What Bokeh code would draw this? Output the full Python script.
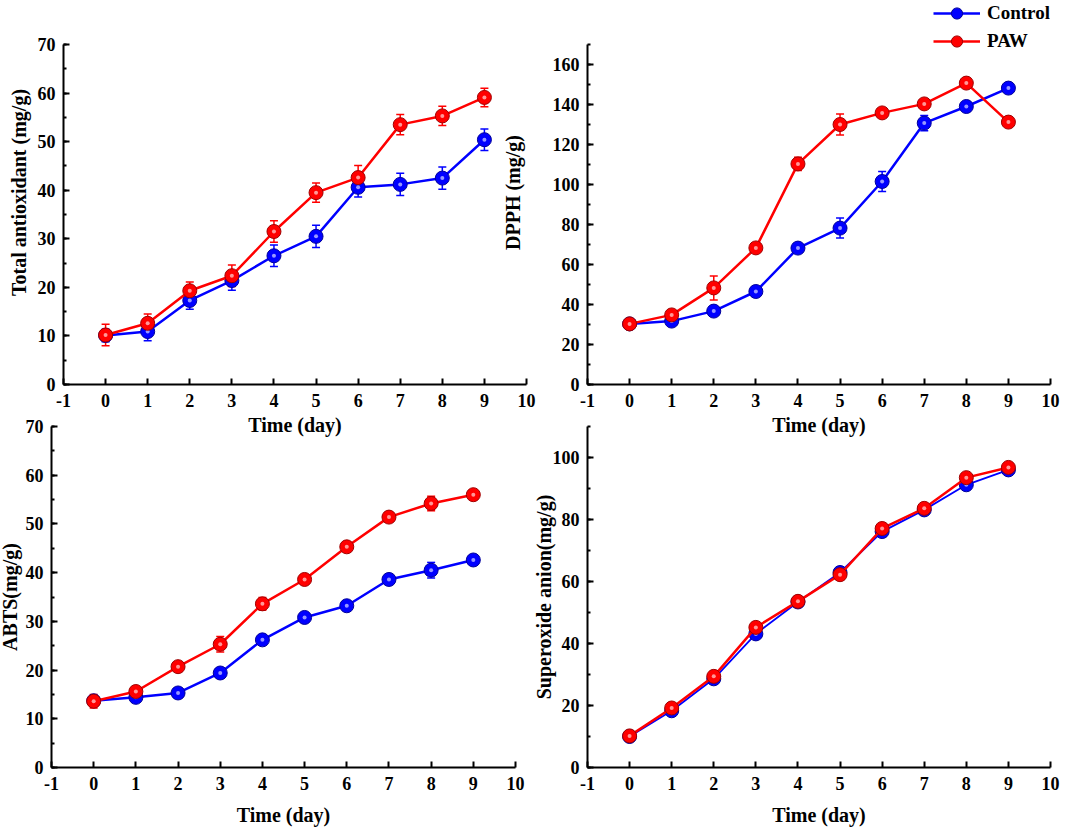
from bokeh.plotting import figure
from bokeh.models import (ColumnDataSource, Whisker, TeeHead, Range1d, FixedTicker,
                          SingleIntervalTicker, Legend, LegendItem)
from bokeh.layouts import row, column
from bokeh.embed import file_html
from bokeh.resources import INLINE

# ---------------- data ----------------
days = [0, 1, 2, 3, 4, 5, 6, 7, 8, 9]
x_ticks = [-1, 0, 1, 2, 3, 4, 5, 6, 7, 8, 9, 10]
series_names = ["Control", "PAW"]

ta_control = [10.1, 10.9, 17.3, 21.4, 26.5, 30.5, 40.6, 41.2, 42.5, 50.4]
ta_control_err = [1.3, 1.9, 1.8, 2.0, 2.2, 2.3, 2.0, 2.3, 2.3, 2.2]
ta_paw = [10.2, 12.6, 19.3, 22.4, 31.5, 39.5, 42.6, 53.5, 55.3, 59.1]
ta_paw_err = [2.2, 1.9, 1.8, 2.2, 2.2, 2.0, 2.5, 2.1, 2.0, 1.9]

dpph_control = [30.3, 31.7, 36.7, 46.5, 68.2, 78.2, 101.5, 130.7, 139.0, 148.2]
dpph_control_err = [1.5, 1.5, 2.0, 2.0, 2.0, 5.0, 5.0, 3.8, 2.0, 2.0]
dpph_paw = [30.3, 34.8, 48.3, 68.3, 110.3, 130.0, 135.8, 140.3, 150.7, 131.2]
dpph_paw_err = [1.5, 2.0, 6.0, 2.0, 3.3, 5.2, 2.0, 2.0, 2.0, 2.0]

abts_control = [13.7, 14.4, 15.3, 19.4, 26.2, 30.8, 33.2, 38.6, 40.5, 42.6]
abts_control_err = [1.0, 1.0, 1.0, 1.0, 1.0, 1.0, 1.0, 1.0, 1.6, 1.0]
abts_paw = [13.6, 15.6, 20.7, 25.3, 33.6, 38.6, 45.3, 51.4, 54.2, 56.0]
abts_paw_err = [1.4, 1.0, 1.0, 1.6, 1.3, 1.0, 1.0, 1.0, 1.5, 1.0]

so_control = [10.0, 18.3, 28.6, 43.1, 53.4, 62.9, 76.1, 83.1, 91.2, 96.0]
so_control_err = [1.0, 1.0, 1.0, 1.0, 1.0, 1.0, 1.0, 1.0, 1.0, 1.0]
so_paw = [10.2, 19.2, 29.4, 45.2, 53.6, 62.2, 77.1, 83.6, 93.5, 96.8]
so_paw_err = [1.0, 1.0, 1.0, 1.0, 1.0, 1.0, 1.0, 1.0, 1.0, 1.0]

# ---------------- style ----------------
FONT = "Liberation Serif"
COLORS = {"Control": ("#0000ff", "#00009a", "#a8a8ff"),
          "PAW": ("#ff0000", "#a00000", "#ffa8a8")}


def panel(ylabel, yview, yaxis_end, ystep, ctrl, ctrl_err, paw, paw_err, geom,
          ylab_standoff, xlab_standoff, ctrl_width=2.5, with_legend=False):
    bl, fw, br, bt, fh, bb, margin = geom
    p = figure(frame_width=fw, frame_height=fh,
               min_border_left=bl, min_border_right=br,
               min_border_top=bt, min_border_bottom=bb,
               x_range=Range1d(-1, 10), y_range=Range1d(0, yview),
               output_backend="svg", toolbar_location=None, margin=margin,
               background_fill_alpha=0, border_fill_alpha=0,
               outline_line_color=None)
    p.grid.visible = False

    p.xaxis.ticker = FixedTicker(ticks=x_ticks, minor_ticks=[])
    p.xaxis.major_label_overrides = {-1: "-1"}
    p.yaxis.ticker = SingleIntervalTicker(interval=ystep, num_minor_ticks=2)
    p.yaxis.bounds = (0, yaxis_end)
    for ax in (p.xaxis[0], p.yaxis[0]):
        ax.axis_line_width = 2
        ax.axis_line_color = "black"
        ax.major_tick_in = 6
        ax.major_tick_out = 0
        ax.minor_tick_in = 3
        ax.minor_tick_out = 0
        ax.major_tick_line_width = 2
        ax.minor_tick_line_width = 2
        ax.major_label_text_font = FONT
        ax.major_label_text_font_style = "bold"
        ax.major_label_text_font_size = "18px"
        ax.major_label_text_color = "black"
        ax.axis_label_text_font = FONT
        ax.axis_label_text_font_style = "bold"
        ax.axis_label_text_font_size = "20px"
        ax.axis_label_text_color = "black"
    p.xaxis.axis_label = "Time (day)"
    p.yaxis.axis_label = ylabel
    p.xaxis.major_label_standoff = 9
    p.yaxis.major_label_standoff = 8
    p.xaxis.axis_label_standoff = xlab_standoff
    p.yaxis.axis_label_standoff = ylab_standoff

    items = []
    for name, vals, errs, lw in (("Control", ctrl, ctrl_err, ctrl_width),
                                 ("PAW", paw, paw_err, 2.5)):
        color, dark, light = COLORS[name]
        src = ColumnDataSource(dict(
            x=days, y=vals,
            upper=[v + e for v, e in zip(vals, errs)],
            lower=[v - e for v, e in zip(vals, errs)]))
        w = Whisker(source=src, base="x", upper="upper", lower="lower",
                    line_color=color, line_width=1.5, level="underlay",
                    upper_head=TeeHead(size=8, line_color=color, line_width=1.5),
                    lower_head=TeeHead(size=8, line_color=color, line_width=1.5))
        p.add_layout(w)
        ln = p.line("x", "y", source=src, line_color=color, line_width=lw)
        sc = p.scatter("x", "y", source=src, size=14, fill_color=color,
                       line_color=dark, line_width=1)
        p.scatter("x", "y", source=src, size=4, fill_color=light, line_color=None,
                  fill_alpha=0.9)
        items.append(LegendItem(label=name, renderers=[ln, sc]))

    if with_legend:
        leg = Legend(items=items, location=(346, 329), orientation="vertical",
                     border_line_alpha=0, background_fill_alpha=0,
                     padding=0, margin=0, spacing=-2,
                     glyph_width=47, glyph_height=28, label_height=28,
                     label_standoff=7, label_text_font=FONT,
                     label_text_font_style="bold", label_text_font_size="19px",
                     label_text_color="black")
        p.add_layout(leg)
    return p


# top row: frames start at the top of the page (axis drawn only up to its bound)
p1 = panel("Total antioxidant (mg/g)", 79.06, 70, 10, ta_control, ta_control_err,
           ta_paw, ta_paw_err, (63, 463, 15, 0, 384, 56, (0, 0, 0, 0)), 5, 4)
p2 = panel("DPPH (mg/g)", 192, 170, 20, dpph_control, dpph_control_err,
           dpph_paw, dpph_paw_err, (92, 463, 24, 0, 384, 56, (0, 0, 0, -46)), 26, 4,
           with_legend=True)
p3 = panel("ABTS(mg/g)", 70, 70, 10, abts_control, abts_control_err,
           abts_paw, abts_paw_err, (56, 464, 15, 12, 341, 65, (-26, 0, -8, -5)), 2, 11)
p4 = panel("Superoxide anion(mg/g)", 110, 110, 20, so_control, so_control_err,
           so_paw, so_paw_err, (72, 463, 24, 12, 341, 65, (-26, 0, -8, -15)), -5, 11,
           ctrl_width=1.8)

layout = column(row(p1, p2), row(p3, p4))

with open("out.html", "w") as f:
    f.write(file_html(layout, INLINE))
